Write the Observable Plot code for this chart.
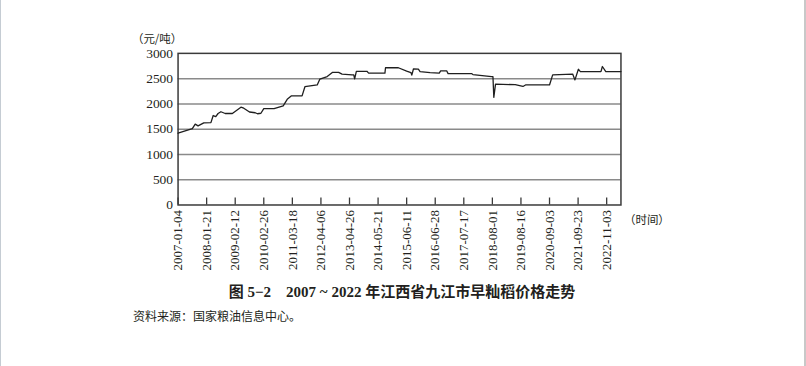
<!DOCTYPE html>
<html>
<head>
<meta charset="utf-8">
<script src="https://cdn.jsdelivr.net/npm/d3@7"></script>
<script src="https://cdn.jsdelivr.net/npm/@observablehq/plot@0.6"></script>
<style>
  html, body { margin: 0; padding: 0; background: #fff; }
  #page { position: relative; width: 806px; height: 366px; box-sizing: border-box;
          border-left: 1px solid #c5ccd3; border-right: 2px solid #c8c8c8; overflow: hidden; }
  #chart { position: absolute; left: -1px; top: 0; }
  .title { position: absolute; left: 0; width: 806px; top: 282px; text-align: center;
           font-weight: bold; font-size: 15px; font-family: "Liberation Serif", "Times New Roman", "Noto Sans CJK SC", serif;
           color: #231f20; line-height: 20px; }
  .title span { display: inline-block; transform: translateX(-2px); }
  .source { position: absolute; left: 132px; top: 309px; font-size: 12px;
            font-family: "Liberation Serif", "Times New Roman", "Noto Sans CJK SC", serif;
            color: #231f20; line-height: 16px; }
</style>
</head>
<body>
<div id="page">
  <div id="chart"></div>
  <div class="title"><span>图 5−2　2007 ~ 2022 年江西省九江市早籼稻价格走势</span></div>
  <div class="source">资料来源：国家粮油信息中心。</div>
</div>
<script>
// x tick labels (one every 10 observation steps)
const tickLabels = ["2007-01-04","2008-01-21","2009-02-12","2010-02-26","2011-03-18","2012-04-06",
  "2013-04-26","2014-05-21","2015-06-11","2016-06-28","2017-07-17","2018-08-01","2019-08-16",
  "2020-09-03","2021-09-23","2022-11-03"];
const tickIdx = tickLabels.map((_, i) => i * 10);
const yTicks = [0, 500, 1000, 1500, 2000, 2500, 3000];
const gridTicks = [500, 1000, 1500, 2000, 2500];

// observation position (in sample steps) and early indica rice price (yuan/ton)
const obsIndex = [0, 5, 6, 7, 9, 11.5, 12.3, 13.2, 14, 15, 16.5, 19, 22, 23, 25, 27, 27.8, 29, 30, 33.6,
  36.8, 38.2, 39.7, 43.4, 44.4, 48.7, 49.6, 52.2, 54.1, 56.2, 57.4, 60.9, 61.5, 61.8, 62.4, 66.1, 66.7,
  72.4, 72.6, 77.1, 80, 81.5, 81.8, 82.4, 84.1, 84.7, 88.2, 91.4, 91.9, 94, 94.5, 102.7, 103.2, 109.7,
  110.2, 110.5, 111.1, 118, 120.7, 121.6, 130, 131.1, 138.1, 138.9, 140.1, 140.8, 148, 148.5, 149.7, 155];
const price = [1420, 1510, 1600, 1565, 1625, 1630, 1770, 1750, 1810, 1845, 1810, 1810, 1935, 1915, 1840,
  1825, 1805, 1815, 1905, 1905, 1960, 2090, 2160, 2160, 2340, 2375, 2490, 2540, 2625, 2625, 2590, 2575,
  2575, 2495, 2645, 2645, 2610, 2610, 2715, 2715, 2650, 2620, 2570, 2695, 2690, 2640, 2620, 2610, 2655,
  2655, 2600, 2600, 2580, 2540, 2540, 2130, 2390, 2380, 2345, 2375, 2375, 2575, 2590, 2475, 2685, 2640,
  2640, 2740, 2640, 2640];

const data = obsIndex.map((x, i) => ({x, y: price[i]}));
const unitLabel = ["（元/吨）"];
const timeLabel = ["（时间）"];
const serif = "'Liberation Serif', 'Times New Roman', 'DejaVu Serif', serif";
const cjk = "'Noto Sans CJK SC', sans-serif";

const chart = Plot.plot({
  width: 806,
  height: 277,
  marginLeft: 178,
  marginRight: 184,
  marginTop: 53,
  marginBottom: 72,
  style: {fontFamily: serif, fontSize: "13px", color: "#231f20", background: "transparent"},
  x: {domain: [0, 155]},
  y: {domain: [0, 3000]},
  marks: [
    Plot.gridY(gridTicks, {stroke: "#8a8a8a", strokeOpacity: 1, strokeWidth: 1.5}),
    Plot.frame({stroke: "#3a3a3a", strokeWidth: 1.5}),
    Plot.tickX(tickIdx, {x: d => d, insetTop: 145, stroke: "#3a3a3a", strokeWidth: 1.3}),
    Plot.axisY({ticks: yTicks, tickFormat: d => String(d), tickSize: 0, tickPadding: 5, label: null,
      fontSize: 13.5, fontFamily: serif}),
    Plot.axisX({ticks: tickIdx, tickFormat: d => tickLabels[tickIdx.indexOf(d)], tickRotate: -90,
      tickSize: 0, tickPadding: 5, label: null, fontSize: 13, fontFamily: serif}),
    Plot.line(data, {x: "x", y: "y", stroke: "#1f1f1f", strokeWidth: 1.3, curve: "linear"}),
    Plot.text(unitLabel, {text: d => d, frameAnchor: "top-left", dx: -21, dy: -10, fontSize: 11.5,
      fontFamily: cjk, textAnchor: "middle", lineAnchor: "bottom"}),
    Plot.text(timeLabel, {text: d => d, frameAnchor: "bottom-right", dx: 3, dy: 19, fontSize: 11.5,
      fontFamily: cjk, textAnchor: "start"})
  ]
});
document.getElementById("chart").appendChild(chart);
</script>
</body>
</html>
